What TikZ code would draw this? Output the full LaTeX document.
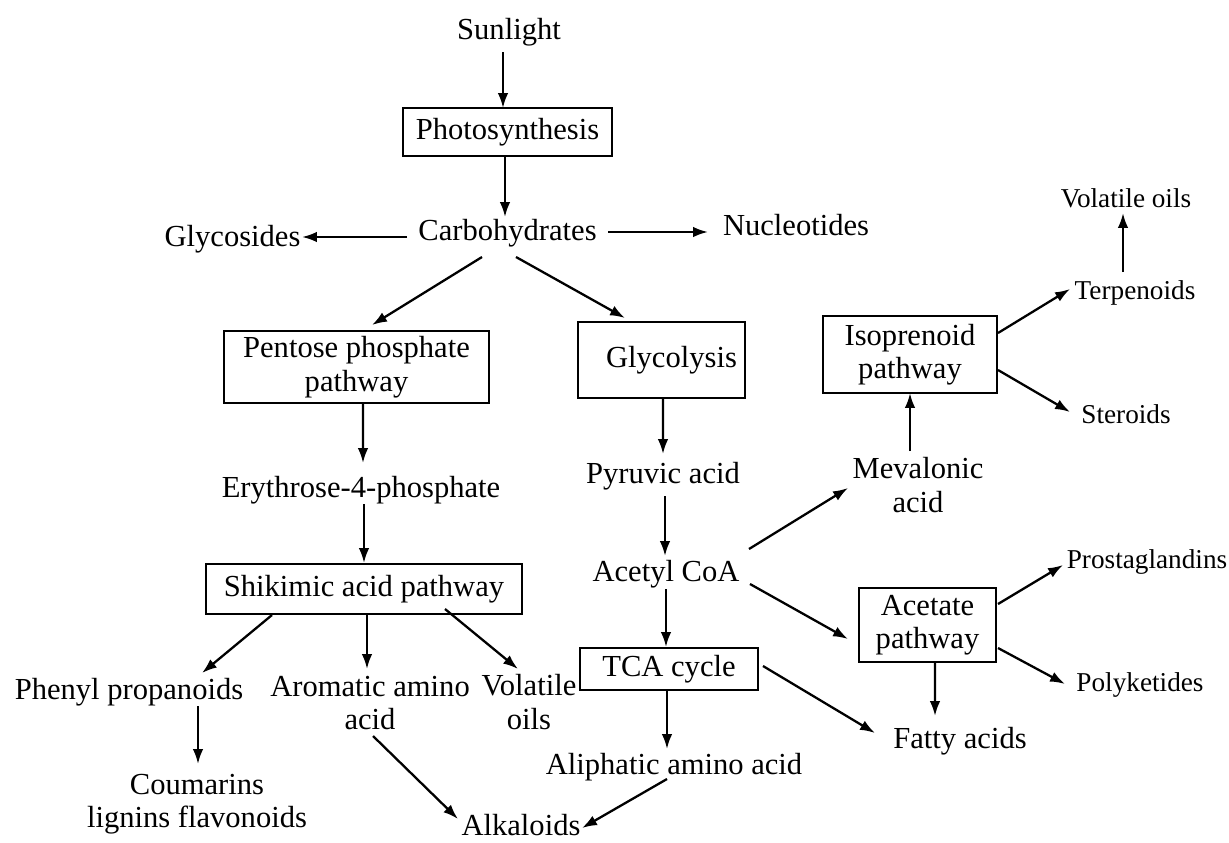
\documentclass[tikz,border=0pt]{standalone}
\usepackage{fontspec}
\setmainfont{Liberation Serif}
\usetikzlibrary{arrows.meta}
\begin{document}
\begin{tikzpicture}[x=0.02cm,y=-0.02cm,
  lbl/.style={inner sep=0pt, font=\fontsize{17.4}{19}\selectfont, anchor=base},
  lblsm/.style={inner sep=0pt, font=\fontsize{15.5}{18}\selectfont, anchor=base},
  multi/.style={inner sep=0pt, align=center, font=\fontsize{17.4}{19}\selectfont},
  box/.style={draw, line width=1.4pt, inner sep=2pt, align=center, font=\fontsize{17.4}{19}\selectfont},
  arr/.style={-{Latex[length=8.5pt,width=6pt]}, line width=1.3pt}]
\fill[white] (0,0) rectangle (1229,842);
\useasboundingbox (0,0) rectangle (1229,842);

% nodes
\node[lbl] (sun) at (509,39) {Sunlight};
\node[box, minimum width=4.18cm, minimum height=0.96cm] (photo) at (507.5,132) {Photosynthesis};
\node[lbl] (carb) at (507.5,240) {Carbohydrates};
\node[lbl] (glyco) at (232.5,246) {Glycosides};
\node[lbl] (nucl) at (796,235) {Nucleotides};
\node[box, minimum width=5.3cm, minimum height=1.44cm] (pent) at (356.5,367) {Pentose phosphate\\pathway};
\node[box, minimum width=3.34cm, minimum height=1.52cm] (glycol) at (661.5,360) {\hspace*{0.4cm}Glycolysis};
\node[box, minimum width=3.48cm, minimum height=1.54cm] (iso) at (910,354.5) {Isoprenoid\\pathway};
\node[lblsm] (terp) at (1135,299) {Terpenoids};
\node[lblsm] (voltop) at (1126,207) {Volatile oils};
\node[lblsm] (ster) at (1126,423) {Steroids};
\node[lbl] (ery) at (361,497) {Erythrose-4-phosphate};
\node[lbl] (pyr) at (663,483) {Pyruvic acid};
\node[multi] (mev) at (918,485) {Mevalonic\\acid};
\node[box, minimum width=6.32cm, minimum height=1cm] (shik) at (364,589) {Shikimic acid pathway};
\node[lbl] (acet) at (666,581) {Acetyl CoA};
\node[box, minimum width=2.74cm, minimum height=1.48cm] (acp) at (927.5,625) {Acetate\\pathway};
\node[lblsm] (prost) at (1147,568) {Prostaglandins};
\node[lblsm] (poly) at (1140,691) {Polyketides};
\node[box, minimum width=3.56cm, minimum height=0.84cm] (tca) at (669,669) {TCA cycle};
\node[lbl] (phen) at (129,699) {Phenyl propanoids};
\node[multi] (arom) at (370,703) {Aromatic amino\\acid};
\node[multi] (volleft) at (529,702) {Volatile\\oils};
\node[lbl] (fatty) at (960,748) {Fatty acids};
\node[lbl] (ali) at (674,774) {Aliphatic amino acid};
\node[multi] (coum) at (197,804) {Coumarins\\lignins flavonoids};
\node[lbl] (alk) at (521,835) {Alkaloids};

% connectors
\draw[arr] ([shift={(-6,13)}]sun.base) -- ([shift={(-4.5,-24)}]photo.center);
\draw[arr] ([shift={(-2.5,24)}]photo.center) -- ([shift={(-2.5,-23)}]carb.base);
\draw[arr] ([shift={(-100.5,-3)}]carb.base) -- ([shift={(69.5,-9)}]glyco.base);
\draw[arr] ([shift={(100.5,-8)}]carb.base) -- ([shift={(-88,-3)}]nucl.base);
\draw[arr] ([shift={(-25.5,17)}]carb.base) -- ([shift={(15.5,-42)}]pent.center);
\draw[arr] ([shift={(8.5,17)}]carb.base) -- ([shift={(-36.5,-42)}]glycol.center);
\draw[arr] ([shift={(6.5,36)}]pent.center) -- ([shift={(2,-34)}]ery.base);
\draw[arr] ([shift={(3,7)}]ery.base) -- ([shift={(0,-26)}]shik.center);
\draw[arr] ([shift={(-92,26)}]shik.center) -- ([shift={(73,-26)}]phen.base);
\draw[arr] ([shift={(3,26)}]shik.center) -- ([shift={(-3,-34)}]arom.center);
\draw[arr] ([shift={(81,20)}]shik.center) -- ([shift={(-11,-33)}]volleft.center);
\draw[arr] ([shift={(69,7)}]phen.base) -- ([shift={(1,-40)}]coum.center);
\draw[arr] ([shift={(3,33)}]arom.center) -- ([shift={(-63,-16)}]alk.base);
\draw[arr] ([shift={(1.5,38)}]glycol.center) -- ([shift={(0,-29)}]pyr.base);
\draw[arr] ([shift={(2,13)}]pyr.base) -- ([shift={(-1,-25)}]acet.base);
\draw[arr] ([shift={(0,8)}]acet.base) -- ([shift={(-3,-22)}]tca.center);
\draw[arr] ([shift={(-2,21)}]tca.center) -- ([shift={(-7,-25)}]ali.base);
\draw[arr] ([shift={(-7,5)}]ali.base) -- ([shift={(61,-7)}]alk.base);
\draw[arr] ([shift={(83,-32)}]acet.base) -- ([shift={(-70,3)}]mev.center);
\draw[arr] ([shift={(84,3)}]acet.base) -- ([shift={(-79.5,14)}]acp.center);
\draw[arr] ([shift={(94,-3)}]tca.center) -- ([shift={(-85,-15)}]fatty.base);
\draw[arr] ([shift={(-8,-34)}]mev.center) -- ([shift={(0,38.5)}]iso.center);
\draw[arr] ([shift={(88,-21.5)}]iso.center) -- ([shift={(-65,-10)}]terp.base);
\draw[arr] ([shift={(88,15.5)}]iso.center) -- ([shift={(-56,-11)}]ster.base);
\draw[arr] ([shift={(-12,-27)}]terp.base) -- ([shift={(-3,6)}]voltop.base);
\draw[arr] ([shift={(70.5,-21)}]acp.center) -- ([shift={(-84,-3)}]prost.base);
\draw[arr] ([shift={(70.5,23)}]acp.center) -- ([shift={(-75,-7)}]poly.base);
\draw[arr] ([shift={(7.5,37)}]acp.center) -- ([shift={(-25,-32)}]fatty.base);
\end{tikzpicture}
\end{document}
